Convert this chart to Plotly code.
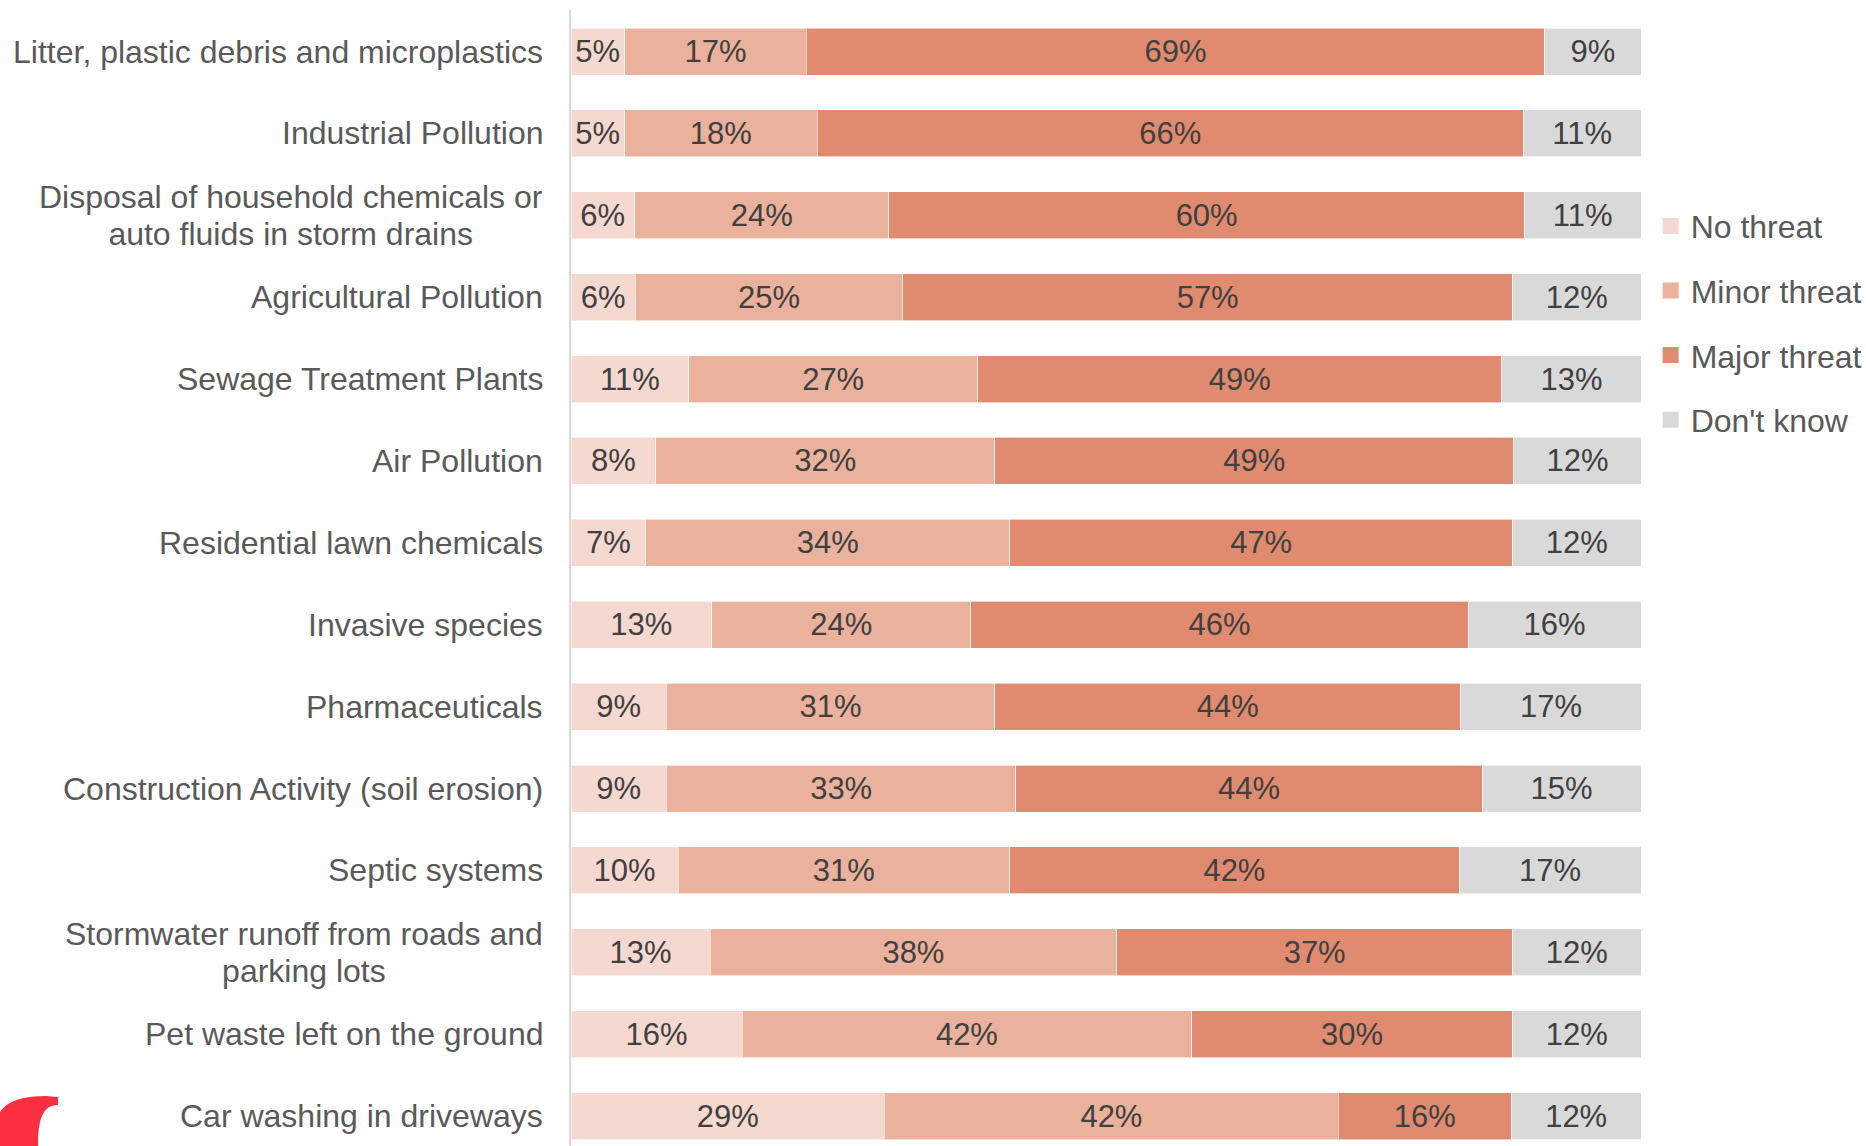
import plotly.graph_objects as go

categories = [
    "Litter, plastic debris and microplastics",
    "Industrial Pollution",
    "Disposal of household chemicals or<br>auto fluids in storm drains",
    "Agricultural Pollution",
    "Sewage Treatment Plants",
    "Air Pollution",
    "Residential lawn chemicals",
    "Invasive species",
    "Pharmaceuticals",
    "Construction Activity (soil erosion)",
    "Septic systems",
    "Stormwater runoff from roads and<br>parking lots",
    "Pet waste left on the ground",
    "Car washing in driveways",
]
no_threat = [5, 5, 6, 6, 11, 8, 7, 13, 9, 9, 10, 13, 16, 29]
minor_threat = [17, 18, 24, 25, 27, 32, 34, 24, 31, 33, 31, 38, 42, 42]
major_threat = [69, 66, 60, 57, 49, 49, 47, 46, 44, 44, 42, 37, 30, 16]
dont_know = [9, 11, 11, 12, 13, 12, 12, 16, 17, 15, 17, 12, 12, 12]

series = [
    ("No threat", no_threat, "#F5D8D0"),
    ("Minor threat", minor_threat, "#EAB19D"),
    ("Major threat", major_threat, "#E08B6F"),
    ("Don't know", dont_know, "#D9D9D9"),
]

W, H = 1866, 1146
ML, MR, MT, MB = 571, 225, 10, 0
PW, PH = W - ML - MR, H - MT - MB
FONT = "Liberation Sans, Arial, sans-serif"

fig = go.Figure()
for name, vals, color in series:
    fig.add_trace(go.Bar(
        y=categories, x=vals, name=name, orientation="h",
        marker=dict(color=color, line=dict(color="rgba(255,255,255,0.6)", width=1)),
        text=[f"{v}%" for v in vals], texttemplate="%{text}",
        textposition="inside", insidetextanchor="middle", textangle=0,
        constraintext="none",
        textfont=dict(family=FONT, size=31, color="#404040"),
        showlegend=False, legendgroup=name, hoverinfo="skip",
    ))

# legend entries with larger square swatches
for name, vals, color in series:
    fig.add_trace(go.Scatter(
        x=[None], y=[None], mode="markers", name=name, legendgroup=name,
        marker=dict(symbol="square", size=17, color=color),
        showlegend=True,
    ))

# category labels (centered multi-line, right-anchored, tighter line spacing)
for c in categories:
    lines = c.split("<br>")
    txt = "<br>".join(f"<span style='font-size:32px'>{ln}</span>" for ln in lines)
    fig.add_annotation(
        x=0, xref="paper", xanchor="right", xshift=-26,
        y=c, yref="y", yanchor="middle",
        text=txt, align="center", showarrow=False,
        font=dict(family=FONT, size=28.5, color="#595959"),
    )

# decorative red fragment at bottom-left (pixel coords -> paper)
def px(xw, yw):
    return f"{(xw - ML) / PW:.5f},{(H - MB - yw) / PH:.5f}"

path = (f"M {px(0,1112)} Q {px(10,1096)} {px(46,1096)} L {px(58,1097)} L {px(58,1105)} "
        f"Q {px(37,1104)} {px(38,1146)} L {px(0,1146)} Z")
fig.add_shape(type="path", path=path, xref="paper", yref="paper",
              fillcolor="#FA3041", line=dict(width=0), layer="above")

fig.update_layout(
    width=W, height=H,
    barmode="stack", barnorm="percent", bargap=0.426,
    plot_bgcolor="white", paper_bgcolor="white",
    margin=dict(l=ML, r=MR, t=MT, b=MB, autoexpand=False),
    font=dict(family=FONT, size=32, color="#595959"),
    showlegend=True, hovermode=False,
    legend=dict(x=1.009, xanchor="left", y=0.834, yanchor="top",
                font=dict(family=FONT, size=32, color="#595959"),
                tracegroupgap=20, traceorder="grouped",
                bgcolor="rgba(0,0,0,0)"),
    xaxis=dict(range=[0, 100], visible=False, fixedrange=True),
    yaxis=dict(type="category", categoryorder="array", categoryarray=categories,
               range=[13.365, -0.507], showticklabels=False, fixedrange=True,
               showline=True, linecolor="#D9D9D9", linewidth=2,
               showgrid=False, zeroline=False, ticks=""),
)

fig.write_html(
    "out.html",
    config={"displayModeBar": False},
    post_script="document.body.style.margin='0';document.body.style.overflow='hidden';",
)
